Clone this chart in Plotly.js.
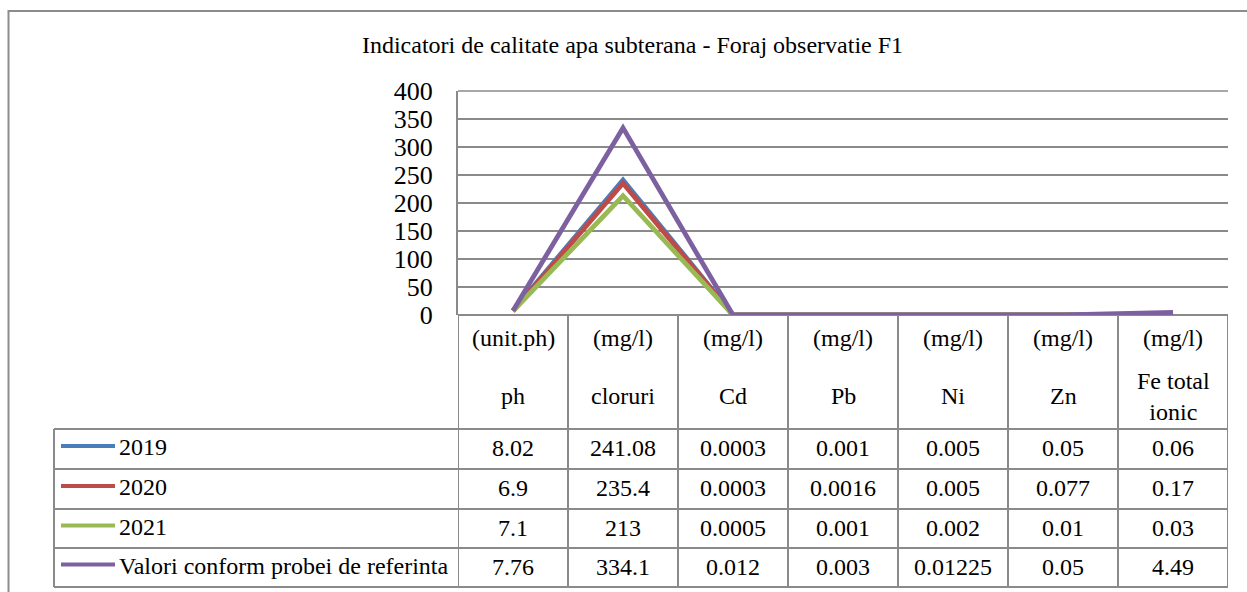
<!DOCTYPE html>
<html>
<head>
<meta charset="utf-8">
<script src="https://cdn.plot.ly/plotly-3.0.1.min.js"></script>
<style>
  html, body { margin: 0; padding: 0; background: #ffffff; }
  #chart { width: 1247px; height: 592px; }
</style>
</head>
<body>
<div id="chart"></div>
<script>
// Indicator names and their measurement units
const categories = ["ph", "cloruri", "Cd", "Pb", "Ni", "Zn", "Fe total ionic"];
const units = ["(unit.ph)", "(mg/l)", "(mg/l)", "(mg/l)", "(mg/l)", "(mg/l)", "(mg/l)"];

// Measured values per series
const seriesNames = ["2019", "2020", "2021", "Valori conform probei de referinta"];
const values2019 = [8.02, 241.08, 0.0003, 0.001, 0.005, 0.05, 0.06];
const values2020 = [6.9, 235.4, 0.0003, 0.0016, 0.005, 0.077, 0.17];
const values2021 = [7.1, 213, 0.0005, 0.001, 0.002, 0.01, 0.03];
const valuesRef = [7.76, 334.1, 0.012, 0.003, 0.01225, 0.05, 4.49];

const seriesValues = [values2019, values2020, values2021, valuesRef];
const seriesColors = ["#4A7EBB", "#BE4B48", "#98B954", "#7D60A0"];

const titleText = "Indicatori de calitate apa subterana - Foraj observatie F1";

// Page geometry (pixels)
const W = 1247, H = 592;
const plotL = 458, plotR = 1228, plotT = 91, plotB = 315;
const legendLeft = 54;
const rowLines = [429, 469, 509, 548, 587];
const gridColor = "#8a8a8a";
const FONT = '"Liberation Serif", "Times New Roman", Times, serif';

const px2x = p => (p - plotL) / (plotR - plotL);
const px2y = p => (plotB - p) / (plotB - plotT);

const idx = categories.map((_, i) => i);

const traces = seriesValues.map((vals, s) => ({
  type: "scatter",
  mode: "lines",
  x: idx,
  y: vals,
  name: seriesNames[s],
  line: { color: seriesColors[s], width: 4.8 },
  showlegend: false,
  hoverinfo: "skip"
}));

const shapes = [];
const annotations = [];

// outer chart frame
shapes.push({
  type: "rect", xref: "paper", yref: "paper",
  x0: px2x(8.5), x1: px2x(1300), y0: px2y(11), y1: px2y(640),
  line: { color: "#8c8c8c", width: 2 }, fillcolor: "rgba(0,0,0,0)", layer: "below"
});

// top gridline of the value axis
shapes.push({
  type: "line", xref: "paper", yref: "paper",
  x0: 0, x1: 1, y0: 1, y1: 1,
  line: { color: gridColor, width: 1.3 }, layer: "below"
});

// table top border along the category axis
shapes.push({
  type: "line", xref: "paper", yref: "paper",
  x0: 0, x1: 1, y0: 0, y1: 0,
  line: { color: gridColor, width: 2 }, layer: "below"
});

// horizontal row lines
rowLines.forEach(py => {
  shapes.push({
    type: "line", xref: "paper", yref: "paper",
    x0: px2x(legendLeft), x1: 1, y0: px2y(py), y1: px2y(py),
    line: { color: gridColor, width: 2 }
  });
});

// legend column left border
shapes.push({
  type: "line", xref: "paper", yref: "paper",
  x0: px2x(legendLeft), x1: px2x(legendLeft),
  y0: px2y(rowLines[0]), y1: px2y(rowLines[rowLines.length - 1]),
  line: { color: gridColor, width: 2 }
});

// column separators, aligned to the category scale
for (let i = 0; i <= categories.length; i++) {
  shapes.push({
    type: "line", xref: "x", yref: "paper",
    x0: i - 0.5, x1: i - 0.5,
    y0: 0, y1: px2y(rowLines[rowLines.length - 1]),
    line: { color: gridColor, width: 2 }
  });
}

const txtFont = { family: FONT, size: 24, color: "#000000" };

// header: units and names
categories.forEach((name, i) => {
  annotations.push({
    xref: "x", yref: "paper", x: i, y: px2y(338),
    text: units[i], showarrow: false, font: txtFont,
    xanchor: "center", yanchor: "middle"
  });
  // wrap long names onto two lines
  let label = name;
  if (name.length > 10) {
    const cut = name.lastIndexOf(" ");
    label = name.slice(0, cut) + "<br>" + name.slice(cut + 1);
  }
  annotations.push({
    xref: "x", yref: "paper", x: i, y: px2y(396),
    text: label, showarrow: false, font: txtFont,
    xanchor: "center", yanchor: "middle"
  });
});

// data rows with legend keys
seriesValues.forEach((vals, s) => {
  const cy = (rowLines[s] + rowLines[s + 1]) / 2 - 1;
  shapes.push({
    type: "line", xref: "paper", yref: "paper",
    x0: px2x(61), x1: px2x(115), y0: px2y(cy - 2), y1: px2y(cy - 2),
    line: { color: seriesColors[s], width: 4 }
  });
  annotations.push({
    xref: "paper", yref: "paper", x: px2x(117), y: px2y(cy - 1),
    text: seriesNames[s], showarrow: false, font: txtFont,
    xanchor: "left", yanchor: "middle"
  });
  vals.forEach((v, i) => {
    annotations.push({
      xref: "x", yref: "paper", x: i, y: px2y(cy),
      text: String(v), showarrow: false, font: txtFont,
      xanchor: "center", yanchor: "middle"
    });
  });
});

const layout = {
  width: W, height: H,
  margin: { l: plotL, r: W - plotR, t: plotT, b: H - plotB, pad: 0 },
  paper_bgcolor: "#ffffff",
  plot_bgcolor: "#ffffff",
  font: { family: FONT },
  title: {
    text: titleText,
    font: { family: FONT, size: 24, color: "#000000" },
    xref: "paper", x: px2x(632.5), xanchor: "center",
    yref: "container", y: 1 - 45 / H, yanchor: "middle"
  },
  xaxis: {
    range: [-0.5, categories.length - 0.5],
    showticklabels: false, showgrid: false, zeroline: false, showline: false,
    fixedrange: true
  },
  yaxis: {
    range: [0, 400], dtick: 50, tick0: 0,
    showgrid: true, gridcolor: gridColor, gridwidth: 1.3,
    zeroline: false,
    showline: true, linecolor: gridColor, linewidth: 2,
    ticks: "", ticklabelstandoff: 18,
    tickfont: { family: FONT, size: 26, color: "#000000" },
    fixedrange: true
  },
  shapes: shapes,
  annotations: annotations,
  showlegend: false
};

Plotly.newPlot("chart", traces, layout, { staticPlot: true, displayModeBar: false });
</script>
</body>
</html>
